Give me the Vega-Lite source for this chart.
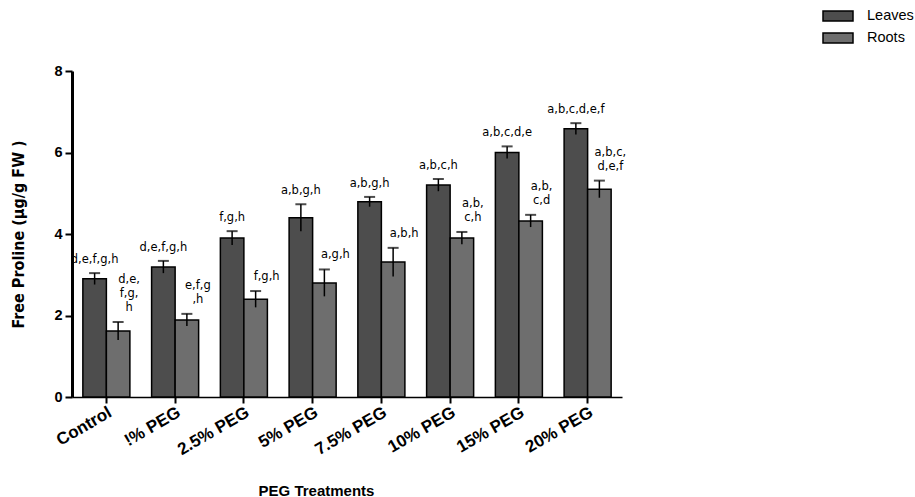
{
  "$schema": "https://vega.github.io/schema/vega-lite/v6.json",
  "autosize": {"type": "none"},
  "padding": {"left": 72, "top": 71, "right": 293, "bottom": 100},
  "width": 550,
  "height": 326,
  "background": "white",
  "config": {"view": {"stroke": null}, "font": "Liberation Sans"},
  "data": {
    "values": [
      {"treatment": "Control", "tissue": "Leaves", "value": 2.9, "lo": 2.76, "hi": 3.04, "b0": "d,e,f,g,h", "b1": "", "b2": ""},
      {"treatment": "Control", "tissue": "Roots", "value": 1.62, "lo": 1.4, "hi": 1.84, "b0": "h", "b1": "f,g,", "b2": "d,e,"},
      {"treatment": "!% PEG", "tissue": "Leaves", "value": 3.19, "lo": 3.04, "hi": 3.34, "b0": "d,e,f,g,h", "b1": "", "b2": ""},
      {"treatment": "!% PEG", "tissue": "Roots", "value": 1.89, "lo": 1.74, "hi": 2.04, "b0": ",h", "b1": "e,f,g", "b2": ""},
      {"treatment": "2.5% PEG", "tissue": "Leaves", "value": 3.9, "lo": 3.73, "hi": 4.07, "b0": "f,g,h", "b1": "", "b2": ""},
      {"treatment": "2.5% PEG", "tissue": "Roots", "value": 2.4, "lo": 2.2, "hi": 2.6, "b0": "f,g,h", "b1": "", "b2": ""},
      {"treatment": "5% PEG", "tissue": "Leaves", "value": 4.4, "lo": 4.07, "hi": 4.73, "b0": "a,b,g,h", "b1": "", "b2": ""},
      {"treatment": "5% PEG", "tissue": "Roots", "value": 2.8, "lo": 2.47, "hi": 3.13, "b0": "a,g,h", "b1": "", "b2": ""},
      {"treatment": "7.5% PEG", "tissue": "Leaves", "value": 4.79, "lo": 4.67, "hi": 4.91, "b0": "a,b,g,h", "b1": "", "b2": ""},
      {"treatment": "7.5% PEG", "tissue": "Roots", "value": 3.31, "lo": 2.96, "hi": 3.66, "b0": "a,b,h", "b1": "", "b2": ""},
      {"treatment": "10% PEG", "tissue": "Leaves", "value": 5.2, "lo": 5.05, "hi": 5.35, "b0": "a,b,c,h", "b1": "", "b2": ""},
      {"treatment": "10% PEG", "tissue": "Roots", "value": 3.9, "lo": 3.75, "hi": 4.05, "b0": "c,h", "b1": "a,b,", "b2": ""},
      {"treatment": "15% PEG", "tissue": "Leaves", "value": 6.0, "lo": 5.85, "hi": 6.15, "b0": "a,b,c,d,e", "b1": "", "b2": ""},
      {"treatment": "15% PEG", "tissue": "Roots", "value": 4.32, "lo": 4.17, "hi": 4.47, "b0": "c,d", "b1": "a,b,", "b2": ""},
      {"treatment": "20% PEG", "tissue": "Leaves", "value": 6.58, "lo": 6.44, "hi": 6.72, "b0": "a,b,c,d,e,f", "b1": "", "b2": ""},
      {"treatment": "20% PEG", "tissue": "Roots", "value": 5.1, "lo": 4.89, "hi": 5.31, "b0": "d,e,f", "b1": "a,b,c,", "b2": ""}
    ]
  },
  "encoding": {
    "x": {
      "field": "treatment",
      "type": "nominal",
      "sort": null,
      "scale": {"paddingInner": 0.316, "paddingOuter": 0.158},
      "axis": {
        "title": "PEG Treatments",
        "titleFont": "Liberation Sans",
        "titleFontSize": 15,
        "titleFontWeight": "bold",
        "titleColor": "black",
        "titleX": 244,
        "titleY": 98,
        "titleBaseline": "alphabetic",
        "labelAngle": -30,
        "labelAlign": "right",
        "labelBaseline": "top",
        "labelFont": "Liberation Sans",
        "labelFontSize": 17,
        "labelFontWeight": "bold",
        "labelColor": "black",
        "labelPadding": 1,
        "domainColor": "black",
        "domainWidth": 1.5,
        "tickColor": "black",
        "tickWidth": 2,
        "tickSize": 6
      }
    },
    "xOffset": {"field": "tissue", "type": "nominal", "scale": {"domain": ["Leaves", "Roots"], "paddingInner": 0}}
  },
  "layer": [
    {
      "mark": {"type": "bar", "stroke": "black", "strokeWidth": 1.5},
      "encoding": {
        "y": {
          "field": "value",
          "type": "quantitative",
          "scale": {"domain": [0, 8], "nice": false},
          "axis": {
            "title": "Free Proline (µg/g FW )",
            "titleFont": "DejaVu Sans Condensed",
            "titleFontSize": 16,
            "titleFontWeight": "bold",
            "titleColor": "black",
            "titleX": -49,
            "titleBaseline": "alphabetic",
            "values": [0, 2, 4, 6, 8],
            "labelFont": "Liberation Sans",
            "labelFontSize": 14.5,
            "labelFontWeight": "bold",
            "labelColor": "black",
            "labelPadding": 3,
            "grid": false,
            "domainColor": "black",
            "domainWidth": 3,
            "tickColor": "black",
            "tickWidth": 2,
            "tickSize": 7
          }
        },
        "fill": {
          "field": "tissue",
          "type": "nominal",
          "scale": {"domain": ["Leaves", "Roots"], "range": ["#4d4d4d", "#6e6e6e"]},
          "legend": {
            "title": null,
            "orient": "none",
            "legendX": 755,
            "legendY": -66,
            "symbolType": "M-1.5,-0.5H1.5V0.5H-1.5Z",
            "symbolSize": 400,
            "symbolStrokeColor": "black",
            "symbolStrokeWidth": 1.5,
            "symbolOpacity": 1,
            "labelFont": "Liberation Sans",
            "labelFontSize": 14.5,
            "labelColor": "black",
            "labelOffset": 18,
            "rowPadding": 3,
            "padding": 0
          }
        }
      }
    },
    {
      "mark": {"type": "rule", "color": "black", "strokeWidth": 1.5},
      "encoding": {
        "y": {"field": "lo", "type": "quantitative"},
        "y2": {"field": "hi"}
      }
    },
    {
      "mark": {"type": "tick", "color": "black", "size": 11, "thickness": 2, "orient": "horizontal"},
      "encoding": {
        "y": {"field": "hi", "type": "quantitative"}
      }
    },
    {
      "transform": [{"filter": "datum.tissue === 'Leaves'"}],
      "mark": {"type": "text", "font": "DejaVu Sans", "fontSize": 11.5, "color": "black", "align": "center", "baseline": "alphabetic", "dy": -10},
      "encoding": {
        "y": {"field": "hi", "type": "quantitative"},
        "text": {"field": "b0"}
      }
    },
    {
      "transform": [{"filter": "datum.tissue === 'Roots'"}],
      "mark": {"type": "text", "font": "DejaVu Sans", "fontSize": 11.5, "color": "black", "align": "center", "baseline": "alphabetic", "dx": 11, "dy": -11},
      "encoding": {
        "y": {"field": "hi", "type": "quantitative"},
        "text": {"field": "b0"}
      }
    },
    {
      "transform": [{"filter": "datum.tissue === 'Roots' && datum.b1 !== ''"}],
      "mark": {"type": "text", "font": "DejaVu Sans", "fontSize": 11.5, "color": "black", "align": "center", "baseline": "alphabetic", "dx": 11, "dy": -25},
      "encoding": {
        "y": {"field": "hi", "type": "quantitative"},
        "text": {"field": "b1"}
      }
    },
    {
      "transform": [{"filter": "datum.tissue === 'Roots' && datum.b2 !== ''"}],
      "mark": {"type": "text", "font": "DejaVu Sans", "fontSize": 11.5, "color": "black", "align": "center", "baseline": "alphabetic", "dx": 11, "dy": -39},
      "encoding": {
        "y": {"field": "hi", "type": "quantitative"},
        "text": {"field": "b2"}
      }
    }
  ]
}
